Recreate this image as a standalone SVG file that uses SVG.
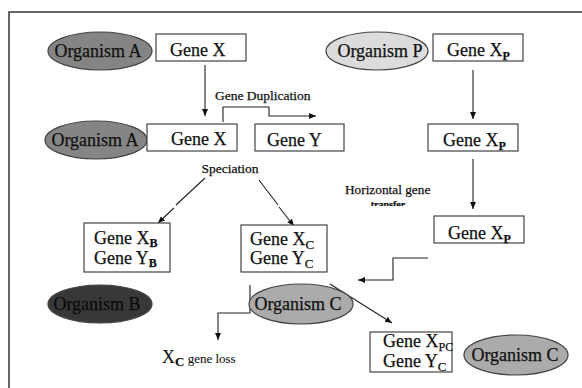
<svg xmlns="http://www.w3.org/2000/svg" width="582" height="388" viewBox="0 0 582 388">
<style>
.t{font-family:"Liberation Serif","Times New Roman",serif;fill:#111;stroke:#111;stroke-width:0.25}
.g{font-size:18px}
.o{font-size:18px;text-anchor:middle}
.s{font-size:12px;font-weight:bold}
.sm{font-size:13.5px}
.box{fill:#fff;stroke:#444;stroke-width:1.2}
.ell{stroke:#444;stroke-width:1.2}
.c{fill:none;stroke:#222;stroke-width:1.1}
</style>
<defs>
<marker id="ah" markerWidth="8" markerHeight="8" refX="7" refY="4" orient="auto" markerUnits="userSpaceOnUse">
<path d="M0,1 L7,4 L0,7 Z" fill="#111"/>
</marker>
<clipPath id="clipT"><rect x="340" y="195" width="100" height="11"/></clipPath>
</defs>
<rect width="582" height="388" fill="#fff"/>
<g id="frame" fill="none" stroke="#333" stroke-width="1.5">
<path d="M9,388 L9,12 L582,12"/>
</g>
<g id="connectors">
<path class="c" d="M205,65 L205,116" marker-end="url(#ah)"/>
<path class="c" d="M223,122 L223,107 L269,107 L269,116 L316,116" marker-end="url(#ah)"/>
<path class="c" d="M205,178 L176,205 M174,208 L158,223" marker-end="url(#ah)"/>
<path class="c" d="M259,180 L278,205 M279,207 L294,226" marker-end="url(#ah)"/>
<path class="c" d="M473,70 L473,119" marker-end="url(#ah)"/>
<path class="c" d="M473,159 L473,209" marker-end="url(#ah)"/>
<path class="c" d="M428,258 L393,258 L393,280 L358,280" marker-end="url(#ah)"/>
<path class="c" d="M250,285 L250,313 L218,313 L218,340" marker-end="url(#ah)"/>
<path class="c" d="M330,284 L392,323" marker-end="url(#ah)"/>
</g>
<g id="orgA1"><ellipse class="ell" cx="100" cy="51" rx="52" ry="19" fill="#858585"/><text class="t o" x="98" y="57">Organism A</text></g>
<g id="geneX1"><rect class="box" x="156" y="34" width="90" height="27"/><text class="t g" x="170" y="56">Gene X</text></g>
<g id="orgP"><ellipse class="ell" cx="377" cy="51" rx="51" ry="19" fill="#dcdcdc"/><text class="t o" x="380" y="57">Organism P</text></g>
<g id="geneXp1"><rect class="box" x="433" y="34" width="90" height="27"/><text class="t g" x="447" y="56">Gene X<tspan class="s" dy="4">P</tspan></text></g>
<g id="dupLabel"><text class="t sm" x="215" y="100">Gene Duplication</text></g>
<g id="orgA2"><ellipse class="ell" cx="96" cy="140" rx="51" ry="19" fill="#858585"/><text class="t o" x="95" y="146">Organism A</text></g>
<g id="geneX2"><rect class="box" x="147" y="124" width="90" height="27"/><text class="t g" x="171" y="145">Gene X</text></g>
<g id="geneY"><rect class="box" x="255" y="124" width="89" height="27"/><text class="t g" x="267" y="146">Gene Y</text></g>
<g id="geneXp2"><rect class="box" x="428" y="124" width="90" height="27"/><text class="t g" x="443" y="146">Gene X<tspan class="s" dy="4">P</tspan></text></g>
<g id="speciation"><text class="t sm" x="230" y="173" text-anchor="middle">Speciation</text></g>
<g id="hgt"><text class="t" x="345" y="194" style="font-size:13.3px">Horizontal gene</text><text class="t" x="388" y="208" text-anchor="middle" clip-path="url(#clipT)" style="font-size:10px;font-weight:bold">transfer</text></g>
<g id="geneXp3"><rect class="box" x="434" y="216" width="90" height="27"/><text class="t g" x="448" y="239">Gene X<tspan class="s" dy="4">P</tspan></text></g>
<g id="boxB"><rect class="box" x="84" y="223" width="86" height="49"/><text class="t g" x="94" y="244">Gene X<tspan class="s" dy="3">B</tspan></text><text class="t g" x="94" y="264">Gene Y<tspan class="s" dy="3">B</tspan></text></g>
<g id="boxC"><rect class="box" x="241" y="225" width="86" height="47"/><text class="t g" x="250" y="245">Gene X<tspan dy="4" style="font-size:13px">C</tspan></text><text class="t g" x="250" y="264">Gene Y<tspan dy="4" style="font-size:13px">C</tspan></text></g>
<g id="orgB"><ellipse class="ell" cx="100" cy="304" rx="52" ry="19" fill="#383838"/><text class="t o" x="97" y="310" style="fill:#0a0a0a">Organism B</text></g>
<g id="orgC1"><ellipse class="ell" cx="301" cy="304" rx="52" ry="20" fill="#ababab"/><text class="t o" x="298" y="310">Organism C</text></g>
<g id="geneLoss"><text class="t" x="162" y="363" style="font-size:18px;stroke-width:0.1">X<tspan dy="3" style="font-size:13px;font-weight:bold">C</tspan><tspan dy="-3" style="font-size:13px"> gene loss</tspan></text></g>
<g id="boxPC"><rect class="box" x="370" y="332" width="82" height="40"/><text class="t g" x="383" y="347">Gene X<tspan dy="4" style="font-size:12px">PC</tspan></text><text class="t g" x="383" y="367">Gene Y<tspan dy="4" style="font-size:13px">C</tspan></text></g>
<g id="orgC2"><ellipse class="ell" cx="516" cy="355" rx="52" ry="20" fill="#ababab"/><text class="t o" x="515" y="361">Organism C</text></g>
</svg>
